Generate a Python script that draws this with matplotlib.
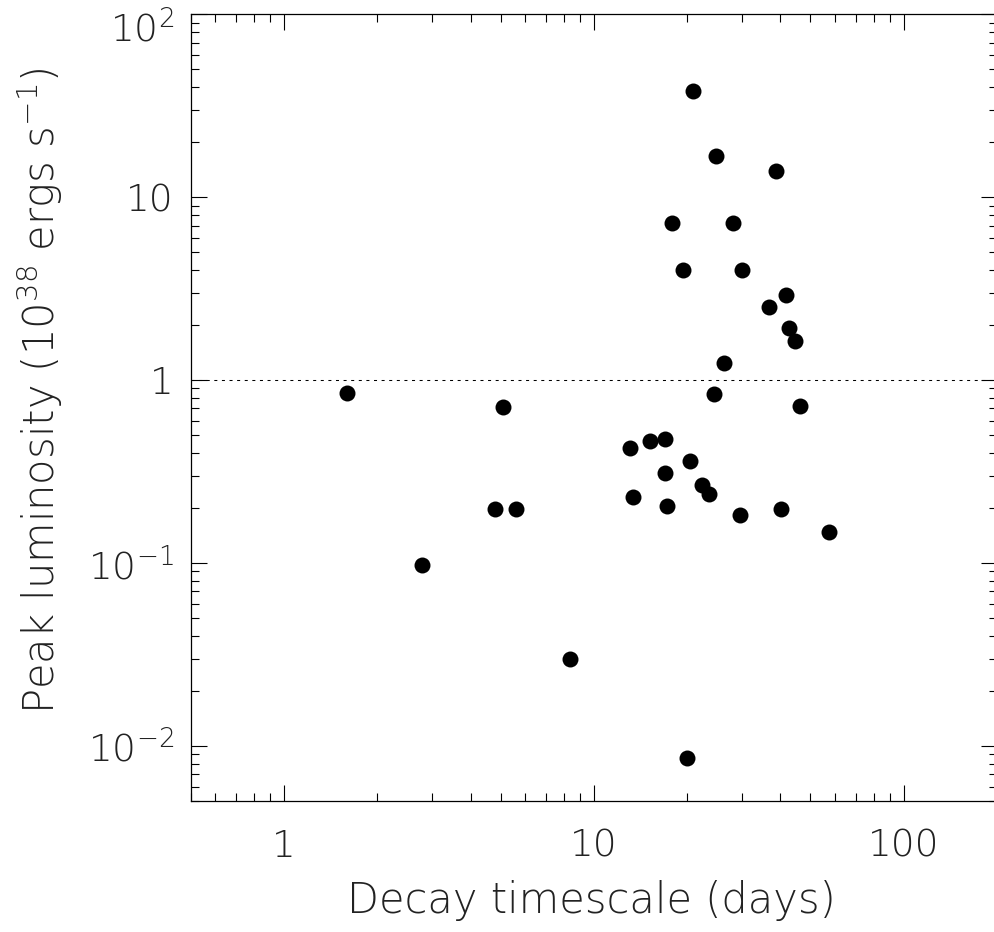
import matplotlib
matplotlib.use("Agg")
import matplotlib.pyplot as plt
from matplotlib.ticker import FixedLocator, FixedFormatter, LogLocator, NullFormatter
from matplotlib.transforms import ScaledTranslation

# ---- data ----
decay_days = [1.60, 2.79, 4.79, 5.60, 5.10, 8.38, 13.07, 13.39, 15.16, 16.98,
              16.98, 17.20, 17.85, 19.37, 20.86, 20.36, 19.95, 22.26, 23.55, 24.75,
              24.44, 26.27, 28.22, 29.65, 30.03, 36.78, 38.73, 40.32, 41.72, 42.56,
              44.51, 46.30, 57.29]
peak_lum = [0.848, 0.0975, 0.1975, 0.1975, 0.717, 0.0299, 0.428, 0.230, 0.467, 0.479,
            0.309, 0.205, 7.20, 4.00, 38.1, 0.363, 0.0086, 0.267, 0.237, 16.9,
            0.841, 1.237, 7.26, 0.182, 3.98, 2.52, 13.98, 0.1975, 2.915, 1.923,
            1.633, 0.72, 0.147]

x_ticks = [1, 10, 100]
x_ticklabels = ["1", "10", "100"]
y_ticks = [1e-2, 1e-1, 1, 10, 100]
y_ticklabels = [r"$10^{-2}$", r"$10^{-1}$", "1", "10", r"$10^{2}$"]
ref_level = 1.0

FONT = "DejaVu Sans"
plt.rcParams["font.family"] = [FONT]
plt.rcParams["font.weight"] = "light"
plt.rcParams["mathtext.fontset"] = "custom"
plt.rcParams["mathtext.rm"] = FONT + ":light"
plt.rcParams["mathtext.it"] = FONT + ":light"
plt.rcParams["mathtext.bf"] = FONT + ":bold"
plt.rcParams["mathtext.default"] = "regular"

TXT = "#222222"
FS_TICK = 27
FS_LAB = 30

W, H = 995, 932
fig = plt.figure(figsize=(W / 100, H / 100), dpi=100)
left, right, top, bottom = 190.7, 997.0, 14.3, 801.0
ax = fig.add_axes([left / W, 1 - bottom / H, (right - left) / W, (bottom - top) / H])

ax.set_xscale("log")
ax.set_yscale("log")
ax.set_xlim(0.5, 200)
ax.set_ylim(0.005, 100)

ax.axhline(ref_level, color="k", lw=0.75, ls=(0, (2.9, 4.4)))
ax.plot(decay_days, peak_lum, "o", color="k", ms=11.5, mec="none")

ax.xaxis.set_major_locator(FixedLocator(x_ticks))
ax.xaxis.set_major_formatter(FixedFormatter(x_ticklabels))
ax.yaxis.set_major_locator(FixedLocator(y_ticks))
ax.yaxis.set_major_formatter(FixedFormatter(y_ticklabels))
ax.xaxis.set_minor_locator(LogLocator(base=10, subs=range(2, 10), numticks=20))
ax.yaxis.set_minor_locator(LogLocator(base=10, subs=range(2, 10), numticks=20))
ax.xaxis.set_minor_formatter(NullFormatter())
ax.yaxis.set_minor_formatter(NullFormatter())

ax.tick_params(which="both", direction="in", top=True, right=True, width=0.8, color="k")
ax.tick_params(which="major", length=11.5)
ax.tick_params(which="minor", length=5.8)
ax.tick_params(axis="x", which="major", pad=20, labelsize=FS_TICK, labelcolor=TXT)
ax.tick_params(axis="y", which="major", pad=12, labelsize=FS_TICK, labelcolor=TXT)
for s in ax.spines.values():
    s.set_linewidth(0.9)
    s.set_color("k")

# shift the topmost y tick label down a little, as in the reference
yt = ax.yaxis.get_major_ticks(len(y_ticks))
top_lab = yt[-1].label1
top_lab.set_transform(top_lab.get_transform() + ScaledTranslation(0, -0.12, fig.dpi_scale_trans))

fig.text(591 / W, 1 - 913 / H, "Decay timescale (days)", ha="center", va="baseline",
         fontsize=FS_LAB, color=TXT)
fig.text(40 / W, 1 - 391 / H, r"Peak luminosity (10$^{38}$ ergs s$^{-1}$)", ha="center",
         va="center", rotation=90, fontsize=FS_LAB, color=TXT)

fig.savefig("out.png", dpi=100)
